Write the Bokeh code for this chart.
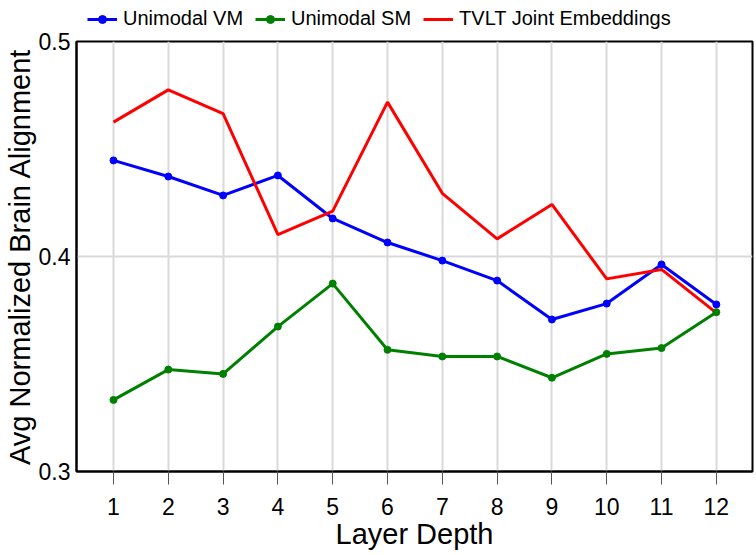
from bokeh.plotting import figure
from bokeh.layouts import column
from bokeh.models import Legend, LegendItem, FixedTicker, ColumnDataSource, Range1d
from bokeh.embed import file_html
from bokeh.resources import INLINE

layers = [1, 2, 3, 4, 5, 6, 7, 8, 9, 10, 11, 12]
unimodal_vm = [0.4447, 0.4372, 0.4284, 0.4377, 0.4177, 0.4065, 0.3981, 0.3888, 0.3707, 0.3781, 0.3963, 0.3777]
unimodal_sm = [0.3333, 0.3474, 0.3454, 0.3674, 0.3874, 0.3566, 0.3535, 0.3535, 0.3436, 0.3547, 0.3574, 0.3741]
tvlt_joint = [0.4625, 0.4775, 0.4664, 0.4102, 0.4211, 0.4718, 0.4294, 0.4082, 0.4242, 0.3896, 0.3940, 0.3738]
y_ticks = [0.3, 0.4, 0.5]
series_names = ["Unimodal VM", "Unimodal SM", "TVLT Joint Embeddings"]
series_colors = ["blue", "green", "red"]

FONT = "Liberation Sans"

src = ColumnDataSource(dict(x=layers, vm=unimodal_vm, sm=unimodal_sm, tv=tvlt_joint))

# ---- main chart ----
p = figure(width=756, height=525, x_range=(0.325, 12.66), y_range=(0.3, 0.5),
           output_backend="svg", toolbar_location=None,
           min_border_left=76, min_border_top=11, min_border_right=4, min_border_bottom=84)

p.line("x", "vm", source=src, line_color=series_colors[0], line_width=3)
p.line("x", "sm", source=src, line_color=series_colors[1], line_width=3)
p.line("x", "tv", source=src, line_color=series_colors[2], line_width=3)
p.scatter("x", "vm", source=src, size=7, color=series_colors[0])
p.scatter("x", "sm", source=src, size=7, color=series_colors[1])

p.xaxis.ticker = FixedTicker(ticks=layers)
p.yaxis.ticker = FixedTicker(ticks=y_ticks)
p.yaxis.major_label_overrides = {0.3: "0.3", 0.4: "0.4", 0.5: "0.5"}

p.xaxis.axis_label = "Layer Depth"
p.yaxis.axis_label = "Avg Normalized Brain Alignment"
for ax in (p.xaxis, p.yaxis):
    ax.axis_label_text_font = FONT
    ax.axis_label_text_font_size = "29px"
    ax.axis_label_text_font_style = "normal"
    ax.axis_label_text_color = "black"
    ax.major_label_text_font = FONT
    ax.major_label_text_font_size = "23px"
    ax.major_label_text_color = "black"
    ax.axis_line_color = "black"
    ax.axis_line_width = 2
    ax.minor_tick_line_color = None

p.xaxis.major_tick_in = 0
p.xaxis.major_tick_out = 13
p.xaxis.major_tick_line_color = "#555555"
p.xaxis.major_tick_line_width = 1
p.xaxis.major_label_standoff = 13
p.xaxis.axis_label_standoff = 0

p.yaxis.major_tick_in = 0
p.yaxis.major_tick_out = 0
p.yaxis.major_label_standoff = 6
p.yaxis.axis_label_standoff = 0

p.xgrid.grid_line_color = "#d9d9d9"
p.xgrid.grid_line_width = 2
p.ygrid.grid_line_color = "#d9d9d9"
p.ygrid.grid_line_width = 2

p.outline_line_color = "black"
p.outline_line_width = 2
p.outline_line_alpha = 1

# ---- legend strip above the chart (series drawn out of view, only the key shows) ----
top = figure(width=756, height=30, x_range=Range1d(0.325, 12.66), y_range=Range1d(10, 11),
             output_backend="svg", toolbar_location=None,
             x_axis_location=None, y_axis_location=None,
             min_border_left=0, min_border_right=0, min_border_top=0, min_border_bottom=0)
top.grid.visible = False
top.outline_line_color = None

k_vm = top.line("x", "vm", source=src, line_color=series_colors[0], line_width=3)
k_vm_m = top.scatter("x", "vm", source=src, size=5, color=series_colors[0])
k_sm = top.line("x", "sm", source=src, line_color=series_colors[1], line_width=3)
k_sm_m = top.scatter("x", "sm", source=src, size=5, color=series_colors[1])
k_tv = top.line("x", "tv", source=src, line_color=series_colors[2], line_width=3)

legend = Legend(items=[
    LegendItem(label=series_names[0], renderers=[k_vm, k_vm_m]),
    LegendItem(label=series_names[1], renderers=[k_sm, k_sm_m]),
    LegendItem(label=series_names[2], renderers=[k_tv]),
], location=(11, 0), orientation="horizontal", padding=0, margin=0, spacing=12,
    glyph_width=30, glyph_height=20, label_standoff=6, label_height=20,
    label_text_font=FONT, label_text_font_size="20px", label_text_color="black",
    border_line_color=None, background_fill_alpha=0)
top.add_layout(legend, "center")

layout = column(top, p, spacing=0)
open("out.html", "w").write(file_html(layout, INLINE))
